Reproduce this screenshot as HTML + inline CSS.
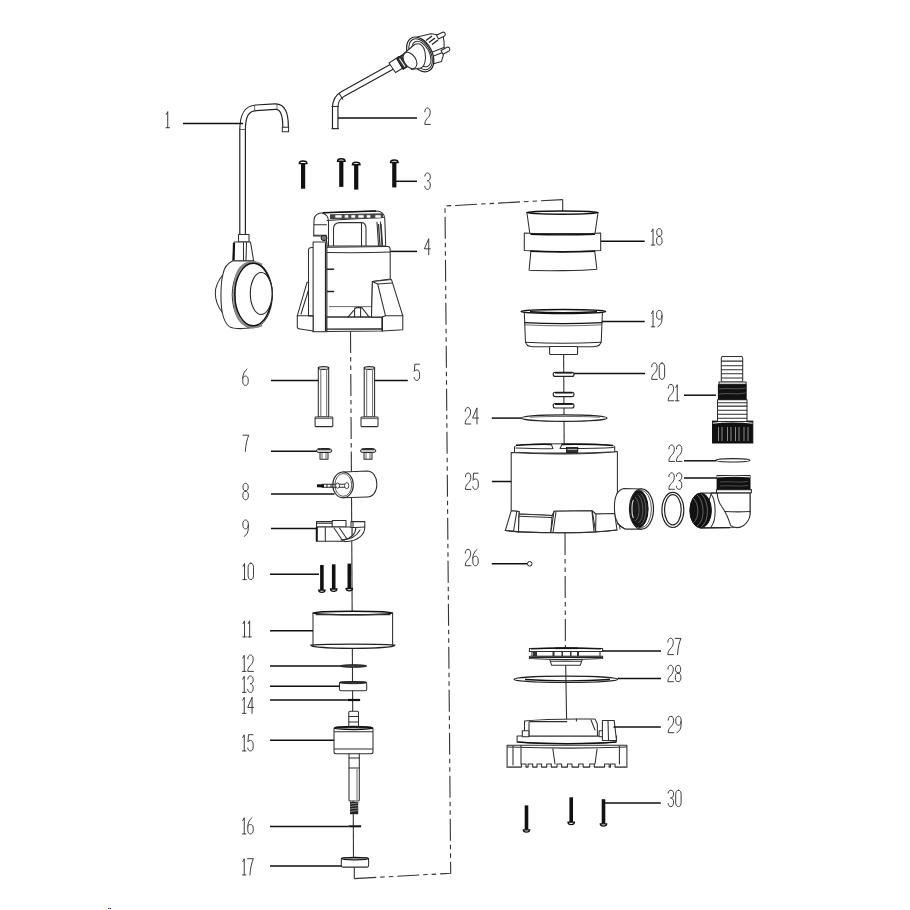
<!DOCTYPE html>
<html><head><meta charset="utf-8"><style>
html,body{margin:0;padding:0;background:#fff;width:910px;height:910px;overflow:hidden}
svg{display:block}
.lbl path{fill:none;stroke:#353535;stroke-width:1.0;stroke-linecap:round;stroke-linejoin:round}
.ld{stroke:#111;stroke-width:1.5}
.ax{stroke:#333;stroke-width:1.1;fill:none}
.dash{stroke:#333;stroke-width:1.1;fill:none;stroke-dasharray:22 4 4.5 4 4.5 4}
.o{fill:#fff;stroke:#2e2e2e;stroke-width:1.05;stroke-linejoin:round}
.l{fill:none;stroke:#2e2e2e;stroke-width:1.05;stroke-linejoin:round;stroke-linecap:round}
.t{fill:none;stroke:#444;stroke-width:0.8}
.k{fill:#111;stroke:#111;stroke-width:1}
</style></head><body>
<svg width="910" height="910" viewBox="0 0 910 910">
<path class="dash" d="M350.5,331 L351.3,455"/>
<path class="ax" d="M351.3,455 L353.5,858"/>
<path class="ax" d="M354.3,867 L354.3,878.6"/>
<path class="dash" d="M354.3,878.6 L450.7,873.3 L445,206 L562.7,199.6"/>
<path class="ax" d="M562.7,199.6 L562.7,212"/>
<path class="ax" d="M563.6,350 L564.2,446"/>
<path class="dash" d="M565,533 L565.4,648"/>
<path class="ax" d="M565.4,648 L566.6,719"/>
<path d="M242.6,236 L242.6,130 C242.6,116 246,108.5 256,107.8 L275,106.6 C282.5,106.2 285.6,113 285.6,127.6" fill="none" stroke="#222" stroke-width="6.8" stroke-linecap="butt" stroke-linejoin="round"/>
<path d="M242.6,236 L242.6,130 C242.6,116 246,108.5 256,107.8 L275,106.6 C282.5,106.2 285.6,113 285.6,127.6" fill="none" stroke="#fff" stroke-width="4.4" stroke-linecap="butt" stroke-linejoin="round"/>
<rect class="o" x="282.3" y="127.3" width="6.3" height="4.4"/>
<path class="t" d="M239.5,129.5 L245.7,129.5 M254.5,105 L254.8,110.5 M277,103.8 L277,109.5"/>
<path class="o" d="M222.8,274.8 C218,281 215.3,287 215.3,293 C215.3,300 218,307 222.3,312.5 Z"/>
<path class="o" d="M233,260.7 C227,263 224,268 222.8,274.8 C220.6,283 220.3,302 222.3,312.5 C223.5,319 226,324 229.3,326.6 C232,328.3 236,328.7 242,328.6 C250,328.4 256,326.5 260,323.5 L268,313 C271,306 272.3,300 272.3,293 C272.3,285 270,278 264.8,272.4 C260,268 256.5,264 253.6,260.7 Z"/>
<rect class="o" x="238.5" y="234.5" width="10.5" height="7.5"/>
<path class="o" d="M234,242 L250.5,242 L253.6,260.7 L233,260.7 Z"/>
<path d="M234,243 L233.6,260" stroke="#111" stroke-width="2.2"/>
<path class="l" d="M243.5,242.5 L243.5,260.5 M246.5,242.5 L246,260.5"/>
<ellipse cx="252.3" cy="294.8" rx="20.1" ry="33.2" fill="#fff" stroke="#333" stroke-width="1"/>
<path d="M262,265 C255,261 245,261 239,270 C233,279 232.8,310 239,319 C245,328 255,328 262,325" fill="none" stroke="#888" stroke-width="2.6"/>
<ellipse cx="253.2" cy="294.5" rx="18.4" ry="31.2" fill="none" stroke="#111" stroke-width="1.4"/>
<ellipse cx="261.2" cy="293.5" rx="10.9" ry="21" fill="#fff" stroke="#222" stroke-width="1.1"/>
<path d="M335.2,128.6 L335.2,108 C335.2,100 338,96.5 343,93.8 L395,65" fill="none" stroke="#222" stroke-width="6.6" stroke-linecap="butt" stroke-linejoin="round"/>
<path d="M335.2,128.6 L335.2,108 C335.2,100 338,96.5 343,93.8 L395,65" fill="none" stroke="#fff" stroke-width="4.3" stroke-linecap="butt" stroke-linejoin="round"/>
<path class="l" d="M331.9,128.6 L338.5,128.6 M331.9,106.5 L338.5,106.5 M339.3,93.8 L342.8,99.3"/>
<path class="o" d="M417,37 L431,33.8 L443,35.4 C444.5,42 445,52 441.5,61.5 L430.8,64.6 L424,60 Z"/>
<path class="l" d="M431,57 L442.5,52.5 M430,53 L443.8,47.5"/>
<path d="M426,40.5 L432,36 M429,42.5 L435,38 M432,44.5 L438,40" stroke="#222" stroke-width="1.3"/>
<ellipse cx="420.2" cy="54.4" rx="11.8" ry="18.6" transform="rotate(-28 420.2 54.4)" fill="#fff" stroke="#222" stroke-width="1.2"/>
<ellipse cx="420.6" cy="54.2" rx="10" ry="16.6" transform="rotate(-28 420.6 54.2)" fill="none" stroke="#222" stroke-width="1"/>
<ellipse cx="421.5" cy="54" rx="7.8" ry="13.8" transform="rotate(-28 421.5 54)" fill="none" stroke="#333" stroke-width="1"/>
<path class="o" d="M404,53.5 L414.5,44.5 C420,42 424,46 425,52 C426.5,60 424.5,67 420.5,68 L411.5,69.5 Z"/>
<path class="o" d="M389,63 L399,56.5 L405.5,66.5 L395.5,72.5 Z"/>
<path d="M396.5,58.5 L405.5,52.8 L412.5,63.5 L403,69.5 Z" fill="#333" stroke="#111" stroke-width="1"/>
<path d="M399.5,58.5 L405,66.8 M403,56.2 L408.5,64.5" stroke="#fff" stroke-width="1.1"/>
<ellipse cx="410" cy="60.5" rx="5.8" ry="9" transform="rotate(-33 410 60.5)" class="o"/>
<path class="o" d="M436.5,35.3 L442.5,32.3 C445,31.3 446.2,34.8 444.5,36 L438.5,39 Z"/>
<path class="o" d="M441,50.5 L447,47.3 C449.5,46.3 450.7,49.8 449,51 L443,54.2 Z"/>
<rect x="301.00" y="162.20" width="4.2" height="26.50" fill="#111"/>
<path d="M299.30,163.60 C299.30,160.20 306.90,160.20 306.90,163.60 Z" fill="#fff" stroke="#111" stroke-width="1.4"/>
<rect x="339.20" y="159.90" width="4.2" height="27.00" fill="#111"/>
<path d="M337.50,161.30 C337.50,157.90 345.10,157.90 345.10,161.30 Z" fill="#fff" stroke="#111" stroke-width="1.4"/>
<rect x="354.10" y="163.40" width="4.2" height="26.20" fill="#111"/>
<path d="M352.40,164.80 C352.40,161.40 360.00,161.40 360.00,164.80 Z" fill="#fff" stroke="#111" stroke-width="1.4"/>
<rect x="392.20" y="161.10" width="4.2" height="26.30" fill="#111"/>
<path d="M390.50,162.50 C390.50,159.10 398.10,159.10 398.10,162.50 Z" fill="#fff" stroke="#111" stroke-width="1.4"/>
<path class="o" d="M313.7,236 L314,220 C314.5,214.5 318,212.8 323,212.8 L376,211 C381.5,211 384.6,214 384.8,219 L385.7,246 L333.5,246 L333.5,229 C333.5,225 336,222.6 340,222.6 L361.5,222.6 C364.5,222.6 366,225 366,229 L366,246 L326.5,246 L326.5,236 Z"/>
<path class="l" d="M322.5,213.2 C327,214 328.5,217 328.5,222 L328.5,246 M327,220.5 C340,219.5 370,218 383.5,217.5 M377,222 L378.5,246 M380.5,222 L382,246 M361.5,222.6 L361.5,246"/>
<path class="l" d="M314,224.8 L326.5,224.8 M314,235.2 L326.5,235.2"/>
<path d="M330,214.2 L383,213.3 L383.3,218 L330,219.3 Z" fill="#444"/>
<rect x="335" y="214.9" width="7" height="3" rx="0.8" fill="#fff" stroke="#666" stroke-width="0.6"/>
<rect x="344.5" y="214.9" width="4.0" height="3" rx="0.8" fill="#fff" stroke="#666" stroke-width="0.6"/>
<rect x="351" y="214.9" width="4.5" height="3" rx="0.8" fill="#fff" stroke="#666" stroke-width="0.6"/>
<rect x="358" y="214.9" width="6" height="3" rx="0.8" fill="#fff" stroke="#666" stroke-width="0.6"/>
<rect x="366.5" y="214.9" width="4.0" height="3" rx="0.8" fill="#fff" stroke="#666" stroke-width="0.6"/>
<rect x="375" y="214.9" width="6" height="3" rx="0.8" fill="#fff" stroke="#666" stroke-width="0.6"/>
<path d="M323,212.8 L376,211" stroke="#111" stroke-width="1.6" fill="none"/>
<path d="M381,224 L382.5,246 M378.5,224 L380,246" stroke="#333" stroke-width="1.3"/>
<path class="o" d="M308.5,250 C308.5,248 310,247.5 312,247.5 L388,246.6 C389.5,246.6 390.2,248 390.2,250 L390.2,279 L372.4,281.5 L371.5,317 L326.9,317 L326.9,331.5 L313.2,331.5 L313.2,316 L308.5,316 Z"/>
<path class="l" d="M326.9,252.5 C350,252.8 375,252.6 390.2,252"/>
<path class="t" d="M329,306.6 L371.8,306.6"/>
<path class="o" d="M313.1,242 L326.9,242 L326.9,331.7 L313.1,331.7 Z"/>
<path d="M325.6,242.5 L325.6,331" stroke="#222" stroke-width="1.4"/>
<path d="M326.9,269.3 L334.2,269.3 M326.9,291.4 L334.2,291.4" stroke="#222" stroke-width="1.5"/>
<ellipse cx="324" cy="238" rx="3" ry="2.6" fill="#777" stroke="#222" stroke-width="1"/>
<path class="o" d="M297.3,315.8 L307.1,282.2 L308.5,282.2 L308.5,316 L313.1,316 L313.1,331 L300,329 C298,328.8 297.3,328 297.3,327 Z"/>
<path class="l" d="M297.3,315.8 L313,315.8 M301,314 L308.5,290"/>
<path class="o" d="M326.9,317.1 L382.3,317.1 L382.3,331 L326.9,331.5 Z"/>
<path d="M326.9,329.2 L382.3,329" stroke="#222" stroke-width="1.3"/>
<path class="l" d="M348,317.1 L356,307.6 L361.9,307.6 L369.1,317.1 M354.6,308 L354.6,317 M360.6,308 L360.6,317"/>
<path class="o" d="M372.4,281.5 L391.5,279.6 L402.8,315.8 L402.8,329.7 L382.3,331 L382.3,317.1 L371.5,317.1 Z"/>
<path class="l" d="M372.4,281.5 L377.7,284 L392,283 M377.7,284 L385.5,315.8 L402.8,315.8 M382.3,317.1 L385.5,315.8"/>
<path d="M382.3,317 L382.3,331" stroke="#222" stroke-width="1.4"/>
<rect class="o" x="318.3" y="367.5" width="10.40" height="49.5"/>
<ellipse cx="323.50" cy="368" rx="5.20" ry="1.4" fill="#fff" stroke="#222" stroke-width="1.1"/>
<path class="t" d="M320.80,370 L320.80,416 M326.70,370 L326.70,416"/>
<rect class="o" x="315.1" y="417" width="17.70" height="9.6" rx="0.8"/>
<path class="t" d="M315.1,418.6 L332.8,418.6"/>
<rect class="o" x="364.2" y="367.5" width="10.40" height="49.5"/>
<ellipse cx="369.40" cy="368" rx="5.20" ry="1.4" fill="#fff" stroke="#222" stroke-width="1.1"/>
<path class="t" d="M366.70,370 L366.70,416 M372.60,370 L372.60,416"/>
<rect class="o" x="361" y="417" width="17.00" height="9.6" rx="0.8"/>
<path class="t" d="M361,418.6 L378,418.6"/>
<path class="o" d="M320.00,452 L328.00,452 L328.00,459.3 L320.00,459.3 Z"/>
<path class="t" d="M322.00,452.5 L322.00,459 M326.00,452.5 L326.00,459"/>
<path d="M316.50,451 C316.50,449 318.50,448.5 320.50,448.5 L328.00,448.5 C330.50,448.5 331.80,449.5 331.80,451 C331.80,452 330.50,452.5 328.50,452.5 L319.50,452.5 C317.50,452.5 316.50,452 316.50,451 Z" fill="#ccc" stroke="#222" stroke-width="1"/>
<path d="M318.00,449.5 L330.30,449.5" stroke="#333" stroke-width="1.2"/>
<path class="o" d="M364.00,452 L372.00,452 L372.00,459.3 L364.00,459.3 Z"/>
<path class="t" d="M366.00,452.5 L366.00,459 M370.00,452.5 L370.00,459"/>
<path d="M360.50,451 C360.50,449 362.50,448.5 364.50,448.5 L372.00,448.5 C374.50,448.5 375.80,449.5 375.80,451 C375.80,452 374.50,452.5 372.50,452.5 L363.50,452.5 C361.50,452.5 360.50,452 360.50,451 Z" fill="#ccc" stroke="#222" stroke-width="1"/>
<path d="M362.00,449.5 L374.30,449.5" stroke="#333" stroke-width="1.2"/>
<path class="o" d="M343,472 L367,471 C373,471 376.9,477 376.9,484.3 C376.9,491.5 373,497 367,497 L343,497.8 Z"/>
<ellipse cx="343.05" cy="484.9" rx="10.25" ry="12.9" fill="#fff" stroke="#222" stroke-width="1.1"/>
<ellipse cx="343.3" cy="484.9" rx="8.4" ry="11.4" fill="none" stroke="#444" stroke-width="0.9"/>
<path class="l" d="M322,484.3 L348,484.3 M322,487.3 L348,487.3"/>
<path d="M317,485.8 L324,485.8" stroke="#111" stroke-width="3"/>
<ellipse cx="337.6" cy="485.6" rx="2" ry="2.6" fill="#fff" stroke="#333" stroke-width="0.9"/>
<ellipse cx="346.7" cy="485.6" rx="2.2" ry="3" fill="#fff" stroke="#333" stroke-width="0.9"/>
<path class="l" d="M327,484.3 L327,487.3 M331,484.3 L331,487.3"/>
<path class="o" d="M316.5,521.6 L332.2,521.6 L332.2,520.4 L346,520.4 L346,527 L316.5,527 Z"/>
<path class="l" d="M332.2,521.6 L332.2,527 M317,523.3 L332,523.3"/>
<path class="o" d="M316.5,527 L352,527 L352,539 C349,541 346,541.3 342,541.3 L316.5,541.3 Z"/>
<path d="M316.8,527 L316.8,541.3" stroke="#111" stroke-width="2"/>
<path class="l" d="M325.3,527.5 L325.3,541 M334,528 L342.5,540.5 M339.5,528 L347,539"/>
<path class="o" d="M351,521.6 L364.8,521.6 L364.8,527 C364.8,535 358,541 345,541.8 L343.5,539.8 C352,538 355.8,533 355.8,527.5 L351,527.5 Z"/>
<path class="l" d="M353,522 L353,527 M355.8,527.5 L364.8,527 M341,540 C350,539.5 357,536 360,530"/>
<rect x="320.10" y="565.00" width="3.6" height="25.90" fill="#111"/>
<path d="M318.70,590.10 L325.10,590.10 C325.10,593.20 318.70,593.20 318.70,590.10 Z" fill="#fff" stroke="#111" stroke-width="1.3"/>
<rect x="331.90" y="564.30" width="3.6" height="25.50" fill="#111"/>
<path d="M330.50,589.00 L336.90,589.00 C336.90,592.10 330.50,592.10 330.50,589.00 Z" fill="#fff" stroke="#111" stroke-width="1.3"/>
<rect x="347.50" y="563.60" width="3.6" height="25.70" fill="#111"/>
<path d="M346.10,588.50 L352.50,588.50 C352.50,591.60 346.10,591.60 346.10,588.50 Z" fill="#fff" stroke="#111" stroke-width="1.3"/>
<path class="o" d="M313,613 L392.6,613 L392.6,645.5 L313,645.5 Z"/>
<ellipse cx="352.8" cy="613" rx="39.8" ry="1.7" fill="#fff" stroke="#111" stroke-width="1.5"/>
<path class="l" d="M316,614.6 L390,614.6"/>
<path d="M310.9,645.2 C330,643.8 375,643.8 394.8,645.2 C394.8,647 375,648.3 352.8,648.3 C330,648.3 310.9,647 310.9,645.2 Z" fill="#fff" stroke="#222" stroke-width="1.3"/>
<ellipse cx="353.3" cy="666" rx="13.4" ry="1.3" fill="#444" stroke="#111" stroke-width="0.9"/>
<rect class="o" x="339.5" y="682" width="27.2" height="8.7" rx="1.5"/>
<ellipse cx="353.1" cy="682.6" rx="13.4" ry="1.1" fill="#333" stroke="#111" stroke-width="0.8"/>
<path d="M347.6,700 L360.1,700" stroke="#111" stroke-width="2.2"/>
<rect class="o" x="348.8" y="711.3" width="9.7" height="17.2" rx="1.2"/>
<path class="l" d="M349,716.4 L358.3,716.4 M349,721.9 L358.3,721.9"/>
<rect class="o" x="349" y="753" width="10.3" height="48" rx="1"/>
<path class="l" d="M349.2,758 L359,758 M349.2,768 L359,768"/>
<path class="t" d="M357,769 L357,800"/>
<rect x="350" y="802" width="8.2" height="12.2" fill="#222"/>
<path d="M350,804 L358,803 M350,806.5 L358,805.5 M350,809 L358,808 M350,811.5 L358,810.5" stroke="#999" stroke-width="0.8"/>
<rect class="o" x="334" y="727.4" width="39" height="26.3" rx="2"/>
<path class="l" d="M334.5,731.8 L372.5,731.8 M334.5,748.9 L372.5,748.9"/>
<ellipse cx="353.5" cy="728" rx="19" ry="1.4" fill="none" stroke="#111" stroke-width="1.5"/>
<path d="M348.4,826.3 L361.1,826.3" stroke="#111" stroke-width="2"/>
<rect class="o" x="341.3" y="858" width="27.3" height="9.1" rx="1.5"/>
<ellipse cx="354.95" cy="858.6" rx="13.5" ry="1.2" fill="none" stroke="#111" stroke-width="1.3"/>
<path class="o" d="M526.9,212.5 L598,212.5 L595,233.5 L529.8,233.5 Z"/>
<ellipse cx="562.45" cy="212.6" rx="35.5" ry="1.6" fill="#fff" stroke="#111" stroke-width="1.6"/>
<path class="o" d="M530.9,251 L594.7,251 L596.9,269.2 C580,270.8 545,271 529.1,270.3 Z"/>
<path class="o" d="M524.3,233 C550,234.6 575,234.6 600.7,233 L600.7,250.5 C575,252 550,252 524.3,250.5 Z"/>
<path d="M530.5,234.2 C550,235 575,235 595,234.2 M530.5,251.3 C550,252.2 575,252.2 595,251.3" stroke="#111" stroke-width="1.4" fill="none"/>
<path class="o" d="M524.3,312.5 L602.4,312.5 L601.3,340.5 C601.3,344.5 598,346.7 593,346.7 L533,346.7 C528,346.7 525.4,344.5 525.4,340.5 Z"/>
<rect class="o" x="549.6" y="346.4" width="28" height="8" rx="1"/>
<path class="l" d="M525.4,342.3 C550,343.5 575,343.5 601.3,342.3"/>
<path d="M524.5,322.6 C550,324 575,324 602.2,322.6" stroke="#111" stroke-width="1.4" fill="none"/>
<path class="t" d="M524.6,324.8 C550,326.2 575,326.2 602,324.8"/>
<ellipse cx="563.35" cy="311.5" rx="42.3" ry="2" fill="#fff" stroke="#111" stroke-width="1.4"/>
<path d="M530,311.8 C550,313 575,313 597,311.8" stroke="#111" stroke-width="1.6" fill="none"/>
<rect x="553.2" y="372.3" width="20.8" height="4.10" rx="2" fill="#fff" stroke="#222" stroke-width="1.1"/>
<path d="M555,372.90 L572.5,372.90" stroke="#111" stroke-width="1.4"/>
<rect x="553.2" y="392.2" width="20.8" height="4.40" rx="2" fill="#fff" stroke="#222" stroke-width="1.1"/>
<path d="M555,392.80 L572.5,392.80" stroke="#111" stroke-width="1.4"/>
<rect x="553.2" y="403.6" width="20.8" height="4.40" rx="2" fill="#fff" stroke="#222" stroke-width="1.1"/>
<path d="M555,404.20 L572.5,404.20" stroke="#111" stroke-width="1.4"/>
<ellipse cx="564.25" cy="418.1" rx="42.8" ry="3.3" fill="#fff" stroke="#222" stroke-width="1.2"/>
<path class="t" d="M530,417.2 C550,416.2 580,416.2 600,417.2"/>
<path class="o" d="M511.2,452.5 C540,454.5 590,454.5 617.4,451.5 L617.4,492 L614.6,505 L614.6,514 L596,514 L592.3,510.8 L554.1,511.2 L552.1,515.5 L519.1,514 L519.1,511.5 L511.2,510.8 Z"/>
<path class="o" d="M514.5,447 C514.5,444 540,443.8 564,443.8 C590,443.8 614.7,444 614.7,446.5 L614.7,451.8 C590,453.5 540,453.5 514.5,452.3 Z"/>
<path d="M516,445.3 C535,444.3 548,444.2 551.4,444.6 M562,444.4 C580,444.2 600,444.5 613,445.5" stroke="#111" stroke-width="1.5" fill="none"/>
<path class="l" d="M516,448 C540,449 551,448.8 553,448.6 L551.4,444.6 M562,444.4 L560,448.5 C580,448.6 600,448.4 613.5,447.5"/>
<rect x="566.6" y="447.5" width="11.2" height="5" fill="#333" stroke="#111" stroke-width="0.8"/>
<path d="M567.5,449.5 L577,449.5" stroke="#bbb" stroke-width="0.9"/>
<path class="o" d="M511.2,510.8 L519.1,511.5 L518.5,531.9 L505.3,530.6 Z"/>
<path class="l" d="M516.8,511.3 L513.5,531.5"/>
<path class="o" d="M519.1,514 C530,514.5 545,515.2 552.1,515.5 L550.8,532.6 C540,532.4 528,532.2 518.5,531.9 Z"/>
<path class="l" d="M519.5,516.3 L551.6,517.5"/>
<path class="o" d="M554.1,511.2 L592.3,510.8 L595.6,531.9 C580,532.8 565,533 550.8,532.6 Z"/>
<path class="l" d="M556,512 L553,532.5 M592,511.5 L594,531.5"/>
<path class="o" d="M596,514 L614.7,513.5 L617,530 C610,531 603,531.5 595.6,531.9 Z"/>
<path class="l" d="M505.3,530.6 C530,533.5 590,533.5 617,530"/>
<path class="o" d="M641.5,488.9 L623.8,488.4 C617,490 614.4,498 614.4,507.1 C614.4,518 618,527 625.9,529.1 L641.5,529.1 Z"/>
<path class="l" d="M617.5,523.8 L624.8,529 M619.5,525 L620,529"/>
<ellipse cx="641.5" cy="509" rx="12" ry="20.1" fill="#fff" stroke="#222" stroke-width="1.2"/>
<ellipse cx="641" cy="509" rx="10.4" ry="18.8" fill="none" stroke="#444" stroke-width="0.9"/>
<ellipse cx="639.2" cy="509" rx="8.9" ry="18.3" fill="#1a1a1a" stroke="#111" stroke-width="1"/>
<path d="M638,495 C644,499 645,519 638,523 M641,494 C647,499 648,519 641,524.5 M635,497 C640,501 641,517 635,521" stroke="#888" stroke-width="0.6" fill="none"/>
<path d="M633.5,500 C631.5,503 631.5,515 633.5,518" stroke="#ccc" stroke-width="1.2" fill="none"/>
<ellipse cx="672.85" cy="509.9" rx="10.95" ry="17.6" fill="none" stroke="#222" stroke-width="1.2"/>
<ellipse cx="672.85" cy="509.75" rx="8.35" ry="15.15" fill="none" stroke="#222" stroke-width="1.2"/>
<rect x="712.5" y="421.1" width="40.3" height="21.9" fill="#111" stroke="#111" stroke-width="1"/>
<path d="M712.8,423.2 C725,421.5 740,421.5 752.5,423.2" stroke="#fff" stroke-width="1" fill="none"/>
<path d="M718.5,427 L718.5,441" stroke="#999" stroke-width="0.9"/>
<path d="M722,427 L722,441" stroke="#999" stroke-width="0.9"/>
<path d="M727.5,427 L727.5,441" stroke="#999" stroke-width="0.9"/>
<path d="M731,427 L731,441" stroke="#999" stroke-width="0.9"/>
<path d="M735.5,427 L735.5,441" stroke="#999" stroke-width="0.9"/>
<path d="M739,427 L739,441" stroke="#999" stroke-width="0.9"/>
<path d="M744,427 L744,441" stroke="#999" stroke-width="0.9"/>
<path d="M748,427 L748,441" stroke="#999" stroke-width="0.9"/>
<rect class="o" x="717.5" y="399.8" width="29.5" height="21.8"/>
<path class="l" d="M717.8,402.7 L746.8,402.7"/>
<path class="l" d="M717.8,406.1 L746.8,406.1"/>
<path class="l" d="M717.8,410.2 L746.8,410.2"/>
<path class="l" d="M717.8,414.2 L746.8,414.2"/>
<path class="l" d="M717.8,418.2 L746.8,418.2"/>
<rect class="o" x="721.3" y="356.5" width="21.4" height="25.4" rx="1.5"/>
<path class="l" d="M721.5,361.1 L742.5,361.1"/>
<path class="l" d="M721.5,365.8 L742.5,365.8"/>
<path class="l" d="M721.5,369.8 L742.5,369.8"/>
<path class="l" d="M721.5,373.8 L742.5,373.8"/>
<path class="l" d="M721.5,377.9 L742.5,377.9"/>
<rect class="o" x="719" y="381.9" width="27.1" height="2.3"/>
<rect x="717.9" y="384.2" width="28.8" height="15.6" fill="#111"/>
<path d="M719,389 C728,387.5 736,390 745.5,388 M719,394 C728,392.5 736,395 745.5,393" stroke="#666" stroke-width="0.8" fill="none"/>
<ellipse cx="732.9" cy="460.3" rx="17" ry="1.7" fill="#fff" stroke="#222" stroke-width="1.1"/>
<path class="o" d="M711.4,493.1 L717,493 L750,493 L750,514.2 C748,522 742,527 736.9,527.5 L700,527.9 Z"/>
<path class="o" d="M717.1,493 C717.5,499 719,503 722,507 C725,511 727,514 730.7,525.7 C732,527 735,527.6 737,527.6 C744,527.5 750,520 750,514.2 L750,493 Z"/>
<path class="l" d="M725,511.5 C733,512 742,512 750,511.5"/>
<ellipse cx="700.6" cy="510.5" rx="10.8" ry="17.4" fill="#111" stroke="#111" stroke-width="1"/>
<path d="M697,495 C704,500 706,520 697,526 M701,494 C709,500 710,521 701,527 M693,498 C699,503 700,518 693,523" stroke="#888" stroke-width="0.7" fill="none"/>
<path d="M700.6,493.1 L717,493 M700.6,527.9 L730,527.6" stroke="#222" stroke-width="1.1"/>
<path class="l" d="M711,494 C716,500 717,520 711,527"/>
<rect class="o" x="716.5" y="489.6" width="34.9" height="3.1"/>
<rect x="716.6" y="475.1" width="33.9" height="14.1" fill="#111"/>
<path d="M717,476.8 C730,476 740,476 750,476.8" stroke="#fff" stroke-width="1.2" fill="none"/>
<path d="M720,482 C730,481 738,483 748,481.5 M720,486 C730,485 738,487 748,485.5" stroke="#666" stroke-width="0.7" fill="none"/>
<circle cx="529.7" cy="563.8" r="2.3" fill="#fff" stroke="#222" stroke-width="1"/>
<path class="o" d="M549.7,659.3 L582.3,659.3 L580.3,665.2 L551.6,665.2 Z"/>
<path class="l" d="M550.5,661.2 L581.5,661.2"/>
<rect x="532" y="651.4" width="68" height="5" fill="#fff" stroke="#222" stroke-width="1"/>
<rect x="533" y="651.4" width="4" height="5" fill="#333"/>
<rect x="552.5" y="651.4" width="2.0" height="5" fill="#333"/>
<rect x="561.5" y="651.4" width="1.5" height="5" fill="#333"/>
<rect x="570" y="651.4" width="1.5" height="5" fill="#333"/>
<rect x="577" y="651.4" width="2" height="5" fill="#333"/>
<path class="o" d="M529.4,648.5 C550,647.5 580,647.5 602.6,648.5 L602.6,651.4 L529.4,651.4 Z"/>
<path d="M531,648.8 C550,648 580,648 601,648.8" stroke="#111" stroke-width="1.3" fill="none"/>
<path d="M555,648.3 L578,648.3" stroke="#111" stroke-width="1.6"/>
<path class="o" d="M529.4,656.3 L602.6,656.3 L602.6,658.5 C580,659.8 550,659.8 529.4,658.5 Z"/>
<path d="M530,657.3 L602,657.3" stroke="#222" stroke-width="1.2"/>
<ellipse cx="565.8" cy="679.3" rx="51.8" ry="3.2" fill="none" stroke="#222" stroke-width="1.2"/>
<path d="M525,679.5 C550,681 585,681 610,679.5" stroke="#111" stroke-width="1.3" fill="none"/>
<path class="o" d="M507.1,745.3 L626.9,745.3 L626.9,767.1 L507.1,767.1 Z"/>
<path class="l" d="M507.5,747 C550,748.5 590,748.5 626.5,747 M521,745.5 L521,764 M513,746 L513,765 M619.4,746 L619.4,764 M552.7,748 L555,764 M597.2,748 L595,764"/>
<path d="M507.1,767.6 L626.9,767.6" stroke="#fff" stroke-width="2.5"/>
<path class="l" d="M507.1,767.1 L521.4,767.1 L521.4,764 L526.0,764 L526.0,767.1 L528.1,767.1 L528.1,764 L532.7,764 L532.7,767.1 L537.0,767.1 L537.0,764 L541.6,764 L541.6,767.1 L546.7,767.1 L546.7,764 L551.3,764 L551.3,767.1 L557.0,767.1 L557.0,764 L561.6,764 L561.6,767.1 L567.4,767.1 L567.4,764 L572.0,764 L572.0,767.1 L578.6,767.1 L578.6,764 L583.2,764 L583.2,767.1 L589.7,767.1 L589.7,764 L594.3,764 L594.3,767.1 L604.5,767.1 L604.5,764 L609.1,764 L609.1,767.1 L610.5,767.1 L610.5,764 L615.1,764 L615.1,767.1 L626.9,767.1"/>
<path class="o" d="M517.1,736 L616.5,736 L616.5,741.9 C590,744 545,744 517.1,741.9 Z"/>
<path d="M517.5,742 C545,744.3 590,744.3 616,742" stroke="#111" stroke-width="1.4" fill="none"/>
<path class="o" d="M524.5,730.8 L524.5,721 C540,719.5 570,719 576.4,719 L595,718.9 L597.3,724 L597.5,736 L524.5,736 Z"/>
<path class="l" d="M529.7,721.6 C545,721.5 560,721.5 566.8,721.6 M529,722 L529,736 M576.4,719 L576.4,721 M591,720 L595,730"/>
<rect class="o" x="522.3" y="730.8" width="6.6" height="5.9"/>
<rect class="o" x="599.1" y="730.8" width="7" height="5.9"/>
<path class="o" d="M602.4,720.4 L614.2,720.4 L616.5,740.4 L602.4,740.4 Z"/>
<path class="l" d="M608,720.5 L608.5,740"/>
<rect x="524.70" y="805.40" width="3.6" height="25.20" fill="#111"/>
<path d="M523.30,829.80 L529.70,829.80 C529.70,832.90 523.30,832.90 523.30,829.80 Z" fill="#fff" stroke="#111" stroke-width="1.3"/>
<rect x="569.40" y="797.30" width="3.6" height="25.70" fill="#111"/>
<path d="M568.00,822.20 L574.40,822.20 C574.40,825.30 568.00,825.30 568.00,822.20 Z" fill="#fff" stroke="#111" stroke-width="1.3"/>
<rect x="601.70" y="799.20" width="3.6" height="25.40" fill="#111"/>
<path d="M600.30,823.80 L606.70,823.80 C606.70,826.90 600.30,826.90 600.30,823.80 Z" fill="#fff" stroke="#111" stroke-width="1.3"/>
<line class="ld" x1="183" y1="123.5" x2="243" y2="123.5"/>
<line class="ld" x1="338" y1="118" x2="417" y2="118"/>
<line class="ld" x1="394" y1="181.3" x2="417" y2="181.3"/>
<line class="ld" x1="390.5" y1="251.4" x2="417" y2="251.4"/>
<line class="ld" x1="374.6" y1="380.4" x2="407.8" y2="380.4"/>
<line class="ld" x1="271" y1="380.4" x2="318.3" y2="380.4"/>
<line class="ld" x1="271" y1="451.2" x2="316.5" y2="451.2"/>
<line class="ld" x1="271" y1="494" x2="334.5" y2="494"/>
<line class="ld" x1="271" y1="528.5" x2="316.5" y2="528.5"/>
<line class="ld" x1="270" y1="574.2" x2="319" y2="574.2"/>
<line class="ld" x1="270" y1="630.7" x2="313" y2="630.7"/>
<line class="ld" x1="270" y1="666" x2="340" y2="666"/>
<line class="ld" x1="270" y1="686.3" x2="339.5" y2="686.3"/>
<line class="ld" x1="270" y1="700" x2="347.6" y2="700"/>
<line class="ld" x1="270" y1="740.2" x2="334" y2="740.2"/>
<line class="ld" x1="270" y1="826.5" x2="348.4" y2="826.5"/>
<line class="ld" x1="270" y1="866" x2="341.3" y2="866"/>
<line class="ld" x1="601" y1="241.3" x2="644.7" y2="241.3"/>
<line class="ld" x1="602" y1="321.4" x2="644.7" y2="321.4"/>
<line class="ld" x1="574" y1="373.5" x2="645" y2="373.5"/>
<line class="ld" x1="684" y1="395.2" x2="716" y2="395.2"/>
<line class="ld" x1="684" y1="460.8" x2="716" y2="460.8"/>
<line class="ld" x1="684" y1="477.9" x2="717" y2="477.9"/>
<line class="ld" x1="491.8" y1="418.1" x2="521.4" y2="418.1"/>
<line class="ld" x1="491.9" y1="481.5" x2="511.3" y2="481.5"/>
<line class="ld" x1="491.8" y1="563.8" x2="527" y2="563.8"/>
<line class="ld" x1="602.5" y1="650.9" x2="661" y2="650.9"/>
<line class="ld" x1="617.6" y1="678.4" x2="661" y2="678.4"/>
<line class="ld" x1="613.5" y1="726.9" x2="660.8" y2="726.9"/>
<line class="ld" x1="603.5" y1="803.1" x2="660.8" y2="803.1"/>
<g class="lbl"><path transform="translate(166.00,111.30) scale(0.965)" d="M0.3,3.2 L1.8,0.3 L1.8,17 M0,17 L3.6,17"/></g>
<g class="lbl"><path transform="translate(424.60,108.00) scale(0.965)" d="M0.2,4 C0.2,1.5 1.3,0 3,0 C4.8,0 5.8,1.5 5.8,4.5 C5.8,7.8 4.3,9.3 2.5,11.2 C1,12.8 0.2,14.3 0.2,17 L6,17"/></g>
<g class="lbl"><path transform="translate(424.70,173.00) scale(0.965)" d="M0.2,3.2 C0.4,1 1.5,0 3,0 C4.8,0 5.8,1.5 5.8,4 C5.8,6.5 4.7,8 3,8 M3,8 C4.9,8 5.8,10 5.8,12.5 C5.8,15.5 4.7,17 3,17 C1.4,17 0.3,16 0.1,13.8"/></g>
<g class="lbl"><path transform="translate(424.30,238.40) scale(0.965)" d="M4.6,17 L4.6,0.3 L0.1,10.8 L6.2,10.8"/></g>
<g class="lbl"><path transform="translate(414.00,364.00) scale(0.965)" d="M5.6,0.2 L0.9,0.2 L0.4,7.6 C1,6.6 1.9,6.1 3,6.1 C4.9,6.1 5.8,8.2 5.8,11.2 L5.8,12.6 C5.8,15.5 4.7,17 3,17 C1.5,17 0.4,16 0.1,14"/></g>
<g class="lbl"><path transform="translate(242.60,369.00) scale(0.965)" d="M4.5,0.2 C2,2 0.2,5.5 0.2,9.5 L0.2,13 C0.2,15.5 1.3,17 3,17 C4.8,17 5.8,15.5 5.8,13 L5.8,11.3 C5.8,8.8 4.7,7.3 3,7.3 C1.5,7.3 0.6,8 0.2,9.2"/></g>
<g class="lbl"><path transform="translate(243.00,435.00) scale(0.965)" d="M0,0.2 L6,0.2 C4.2,4 2.8,10 2.4,17"/></g>
<g class="lbl"><path transform="translate(242.70,483.30) scale(0.965)" d="M3,8 C1.3,8 0.3,6.5 0.3,4 C0.3,1.5 1.3,0 3,0 C4.7,0 5.7,1.5 5.7,4 C5.7,6.5 4.7,8 3,8 C1.2,8 0.1,10 0.1,12.5 C0.1,15.5 1.2,17 3,17 C4.8,17 5.9,15.5 5.9,12.5 C5.9,10 4.8,8 3,8 Z"/></g>
<g class="lbl"><path transform="translate(242.70,520.00) scale(0.965)" d="M5.8,5.2 C5.8,7.7 4.7,9.2 3,9.2 C1.3,9.2 0.2,7.7 0.2,5.2 L0.2,4 C0.2,1.5 1.3,0 3,0 C4.7,0 5.8,1.5 5.8,4 L5.8,8.5 C5.8,12.5 4.3,15.5 1.5,17"/></g>
<g class="lbl"><path transform="translate(242.80,563.20) scale(0.965)" d="M0.3,3.2 L1.8,0.3 L1.8,17 M0,17 L3.6,17"/><path transform="translate(247.91,563.20) scale(0.965)" d="M3,0 C1,0 0.2,2 0.2,4.5 L0.2,12.5 C0.2,15 1,17 3,17 C5,17 5.8,15 5.8,12.5 L5.8,4.5 C5.8,2 5,0 3,0 Z"/></g>
<g class="lbl"><path transform="translate(242.80,620.50) scale(0.965)" d="M0.3,3.2 L1.8,0.3 L1.8,17 M0,17 L3.6,17"/><path transform="translate(247.91,620.50) scale(0.965)" d="M0.3,3.2 L1.8,0.3 L1.8,17 M0,17 L3.6,17"/></g>
<g class="lbl"><path transform="translate(242.50,655.00) scale(0.965)" d="M0.3,3.2 L1.8,0.3 L1.8,17 M0,17 L3.6,17"/><path transform="translate(247.61,655.00) scale(0.965)" d="M0.2,4 C0.2,1.5 1.3,0 3,0 C4.8,0 5.8,1.5 5.8,4.5 C5.8,7.8 4.3,9.3 2.5,11.2 C1,12.8 0.2,14.3 0.2,17 L6,17"/></g>
<g class="lbl"><path transform="translate(242.50,676.00) scale(0.965)" d="M0.3,3.2 L1.8,0.3 L1.8,17 M0,17 L3.6,17"/><path transform="translate(247.61,676.00) scale(0.965)" d="M0.2,3.2 C0.4,1 1.5,0 3,0 C4.8,0 5.8,1.5 5.8,4 C5.8,6.5 4.7,8 3,8 M3,8 C4.9,8 5.8,10 5.8,12.5 C5.8,15.5 4.7,17 3,17 C1.4,17 0.3,16 0.1,13.8"/></g>
<g class="lbl"><path transform="translate(242.50,697.00) scale(0.965)" d="M0.3,3.2 L1.8,0.3 L1.8,17 M0,17 L3.6,17"/><path transform="translate(247.61,697.00) scale(0.965)" d="M4.6,17 L4.6,0.3 L0.1,10.8 L6.2,10.8"/></g>
<g class="lbl"><path transform="translate(242.50,734.50) scale(0.965)" d="M0.3,3.2 L1.8,0.3 L1.8,17 M0,17 L3.6,17"/><path transform="translate(247.61,734.50) scale(0.965)" d="M5.6,0.2 L0.9,0.2 L0.4,7.6 C1,6.6 1.9,6.1 3,6.1 C4.9,6.1 5.8,8.2 5.8,11.2 L5.8,12.6 C5.8,15.5 4.7,17 3,17 C1.5,17 0.4,16 0.1,14"/></g>
<g class="lbl"><path transform="translate(242.50,817.50) scale(0.965)" d="M0.3,3.2 L1.8,0.3 L1.8,17 M0,17 L3.6,17"/><path transform="translate(247.61,817.50) scale(0.965)" d="M4.5,0.2 C2,2 0.2,5.5 0.2,9.5 L0.2,13 C0.2,15.5 1.3,17 3,17 C4.8,17 5.8,15.5 5.8,13 L5.8,11.3 C5.8,8.8 4.7,7.3 3,7.3 C1.5,7.3 0.6,8 0.2,9.2"/></g>
<g class="lbl"><path transform="translate(242.50,858.50) scale(0.965)" d="M0.3,3.2 L1.8,0.3 L1.8,17 M0,17 L3.6,17"/><path transform="translate(247.61,858.50) scale(0.965)" d="M0,0.2 L6,0.2 C4.2,4 2.8,10 2.4,17"/></g>
<g class="lbl"><path transform="translate(651.30,228.60) scale(0.965)" d="M0.3,3.2 L1.8,0.3 L1.8,17 M0,17 L3.6,17"/><path transform="translate(656.41,228.60) scale(0.965)" d="M3,8 C1.3,8 0.3,6.5 0.3,4 C0.3,1.5 1.3,0 3,0 C4.7,0 5.7,1.5 5.7,4 C5.7,6.5 4.7,8 3,8 C1.2,8 0.1,10 0.1,12.5 C0.1,15.5 1.2,17 3,17 C4.8,17 5.9,15.5 5.9,12.5 C5.9,10 4.8,8 3,8 Z"/></g>
<g class="lbl"><path transform="translate(651.30,310.40) scale(0.965)" d="M0.3,3.2 L1.8,0.3 L1.8,17 M0,17 L3.6,17"/><path transform="translate(656.41,310.40) scale(0.965)" d="M5.8,5.2 C5.8,7.7 4.7,9.2 3,9.2 C1.3,9.2 0.2,7.7 0.2,5.2 L0.2,4 C0.2,1.5 1.3,0 3,0 C4.7,0 5.8,1.5 5.8,4 L5.8,8.5 C5.8,12.5 4.3,15.5 1.5,17"/></g>
<g class="lbl"><path transform="translate(651.50,363.00) scale(0.965)" d="M0.2,4 C0.2,1.5 1.3,0 3,0 C4.8,0 5.8,1.5 5.8,4.5 C5.8,7.8 4.3,9.3 2.5,11.2 C1,12.8 0.2,14.3 0.2,17 L6,17"/><path transform="translate(659.02,363.00) scale(0.965)" d="M3,0 C1,0 0.2,2 0.2,4.5 L0.2,12.5 C0.2,15 1,17 3,17 C5,17 5.8,15 5.8,12.5 L5.8,4.5 C5.8,2 5,0 3,0 Z"/></g>
<g class="lbl"><path transform="translate(668.00,384.40) scale(0.965)" d="M0.2,4 C0.2,1.5 1.3,0 3,0 C4.8,0 5.8,1.5 5.8,4.5 C5.8,7.8 4.3,9.3 2.5,11.2 C1,12.8 0.2,14.3 0.2,17 L6,17"/><path transform="translate(675.52,384.40) scale(0.965)" d="M0.3,3.2 L1.8,0.3 L1.8,17 M0,17 L3.6,17"/></g>
<g class="lbl"><path transform="translate(668.70,445.00) scale(0.965)" d="M0.2,4 C0.2,1.5 1.3,0 3,0 C4.8,0 5.8,1.5 5.8,4.5 C5.8,7.8 4.3,9.3 2.5,11.2 C1,12.8 0.2,14.3 0.2,17 L6,17"/><path transform="translate(676.22,445.00) scale(0.965)" d="M0.2,4 C0.2,1.5 1.3,0 3,0 C4.8,0 5.8,1.5 5.8,4.5 C5.8,7.8 4.3,9.3 2.5,11.2 C1,12.8 0.2,14.3 0.2,17 L6,17"/></g>
<g class="lbl"><path transform="translate(668.70,472.90) scale(0.965)" d="M0.2,4 C0.2,1.5 1.3,0 3,0 C4.8,0 5.8,1.5 5.8,4.5 C5.8,7.8 4.3,9.3 2.5,11.2 C1,12.8 0.2,14.3 0.2,17 L6,17"/><path transform="translate(676.22,472.90) scale(0.965)" d="M0.2,3.2 C0.4,1 1.5,0 3,0 C4.8,0 5.8,1.5 5.8,4 C5.8,6.5 4.7,8 3,8 M3,8 C4.9,8 5.8,10 5.8,12.5 C5.8,15.5 4.7,17 3,17 C1.4,17 0.3,16 0.1,13.8"/></g>
<g class="lbl"><path transform="translate(465.00,407.60) scale(0.965)" d="M0.2,4 C0.2,1.5 1.3,0 3,0 C4.8,0 5.8,1.5 5.8,4.5 C5.8,7.8 4.3,9.3 2.5,11.2 C1,12.8 0.2,14.3 0.2,17 L6,17"/><path transform="translate(472.52,407.60) scale(0.965)" d="M4.6,17 L4.6,0.3 L0.1,10.8 L6.2,10.8"/></g>
<g class="lbl"><path transform="translate(465.20,473.00) scale(0.965)" d="M0.2,4 C0.2,1.5 1.3,0 3,0 C4.8,0 5.8,1.5 5.8,4.5 C5.8,7.8 4.3,9.3 2.5,11.2 C1,12.8 0.2,14.3 0.2,17 L6,17"/><path transform="translate(472.72,473.00) scale(0.965)" d="M5.6,0.2 L0.9,0.2 L0.4,7.6 C1,6.6 1.9,6.1 3,6.1 C4.9,6.1 5.8,8.2 5.8,11.2 L5.8,12.6 C5.8,15.5 4.7,17 3,17 C1.5,17 0.4,16 0.1,14"/></g>
<g class="lbl"><path transform="translate(465.10,549.30) scale(0.965)" d="M0.2,4 C0.2,1.5 1.3,0 3,0 C4.8,0 5.8,1.5 5.8,4.5 C5.8,7.8 4.3,9.3 2.5,11.2 C1,12.8 0.2,14.3 0.2,17 L6,17"/><path transform="translate(472.62,549.30) scale(0.965)" d="M4.5,0.2 C2,2 0.2,5.5 0.2,9.5 L0.2,13 C0.2,15.5 1.3,17 3,17 C4.8,17 5.8,15.5 5.8,13 L5.8,11.3 C5.8,8.8 4.7,7.3 3,7.3 C1.5,7.3 0.6,8 0.2,9.2"/></g>
<g class="lbl"><path transform="translate(667.70,638.20) scale(0.965)" d="M0.2,4 C0.2,1.5 1.3,0 3,0 C4.8,0 5.8,1.5 5.8,4.5 C5.8,7.8 4.3,9.3 2.5,11.2 C1,12.8 0.2,14.3 0.2,17 L6,17"/><path transform="translate(675.22,638.20) scale(0.965)" d="M0,0.2 L6,0.2 C4.2,4 2.8,10 2.4,17"/></g>
<g class="lbl"><path transform="translate(667.70,665.30) scale(0.965)" d="M0.2,4 C0.2,1.5 1.3,0 3,0 C4.8,0 5.8,1.5 5.8,4.5 C5.8,7.8 4.3,9.3 2.5,11.2 C1,12.8 0.2,14.3 0.2,17 L6,17"/><path transform="translate(675.22,665.30) scale(0.965)" d="M3,8 C1.3,8 0.3,6.5 0.3,4 C0.3,1.5 1.3,0 3,0 C4.7,0 5.7,1.5 5.7,4 C5.7,6.5 4.7,8 3,8 C1.2,8 0.1,10 0.1,12.5 C0.1,15.5 1.2,17 3,17 C4.8,17 5.9,15.5 5.9,12.5 C5.9,10 4.8,8 3,8 Z"/></g>
<g class="lbl"><path transform="translate(668.00,716.30) scale(0.965)" d="M0.2,4 C0.2,1.5 1.3,0 3,0 C4.8,0 5.8,1.5 5.8,4.5 C5.8,7.8 4.3,9.3 2.5,11.2 C1,12.8 0.2,14.3 0.2,17 L6,17"/><path transform="translate(675.52,716.30) scale(0.965)" d="M5.8,5.2 C5.8,7.7 4.7,9.2 3,9.2 C1.3,9.2 0.2,7.7 0.2,5.2 L0.2,4 C0.2,1.5 1.3,0 3,0 C4.7,0 5.8,1.5 5.8,4 L5.8,8.5 C5.8,12.5 4.3,15.5 1.5,17"/></g>
<g class="lbl"><path transform="translate(668.00,790.20) scale(0.965)" d="M0.2,3.2 C0.4,1 1.5,0 3,0 C4.8,0 5.8,1.5 5.8,4 C5.8,6.5 4.7,8 3,8 M3,8 C4.9,8 5.8,10 5.8,12.5 C5.8,15.5 4.7,17 3,17 C1.4,17 0.3,16 0.1,13.8"/><path transform="translate(675.52,790.20) scale(0.965)" d="M3,0 C1,0 0.2,2 0.2,4.5 L0.2,12.5 C0.2,15 1,17 3,17 C5,17 5.8,15 5.8,12.5 L5.8,4.5 C5.8,2 5,0 3,0 Z"/></g>
<g shape-rendering="crispEdges"><rect x="108" y="908" width="1" height="1" fill="#f00"/><rect x="109" y="908" width="1" height="1" fill="#0f0"/><rect x="110" y="908" width="1" height="1" fill="#00f"/></g>
</svg></body></html>
